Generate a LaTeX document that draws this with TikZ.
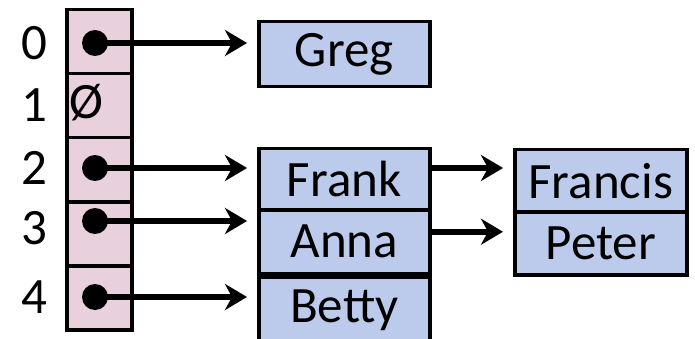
\documentclass[tikz,border=0pt]{standalone}
\usepackage{fontspec}
\setmainfont{Carlito}
\usetikzlibrary{arrows.meta}
\definecolor{cellpink}{RGB}{232,208,221}
\definecolor{boxblue}{RGB}{188,203,235}
\tikzset{
  cell/.style={draw=black, line width=3.5pt, fill=cellpink, minimum width=65pt, minimum height=64pt, inner sep=0pt, anchor=north west},
  namebox/.style={draw=black, line width=3.5pt, fill=boxblue, inner sep=0pt, anchor=north west, font=\fontsize{51}{56}\selectfont},
  idx/.style={font=\fontsize{51}{56}\selectfont, inner sep=0pt},
  dot/.style={circle, fill=black, minimum size=26pt, inner sep=0pt},
  ptr/.style={line width=6pt, -{Stealth[length=22pt,width=26pt,inset=7pt]}, shorten >=10pt},
}
\begin{document}
\begin{tikzpicture}[x=1pt,y=-1pt]
\useasboundingbox (0,0) rectangle (695,339);
% table cells
\node[cell] (c0) at (65,8) {};
\node[cell] (c1) at (65,72) {};
\node[cell] (c2) at (65,136) {};
\node[cell] (c3) at (65,200) {};
\node[cell] (c4) at (65,264) {};
% index labels
\node[idx] (i0) at (34,43) {0};
\node[idx] (i1) at (34,105) {1};
\node[idx] (i2) at (34,168) {2};
\node[idx] (i3) at (34,228) {3};
\node[idx] (i4) at (34,297) {4};
\node[idx] (nul) at (86,103) {Ø};
% dots
\node[dot] (d0) at (95,43) {};
\node[dot] (d2) at (95,168) {};
\node[dot] (d3) at (95,221) {};
\node[dot] (d4) at (95,297) {};
% name boxes
\node[namebox, minimum width=171pt, minimum height=65pt] (greg) at (257,20) {Greg};
\node[namebox, minimum width=171pt, minimum height=61pt] (frank) at (257,147) {Frank};
\node[namebox, minimum width=171pt, minimum height=64pt] (anna) at (257,208) {Anna};
\node[namebox, minimum width=171pt, minimum height=66pt] (betty) at (257,275) {Betty};
\node[namebox, minimum width=172pt, minimum height=62pt] (francis) at (513,148) {Francis};
\node[namebox, minimum width=172pt, minimum height=63pt] (peter) at (513,210) {Peter};
% pointers
\draw[ptr] (d0.center) -- (greg.west |- d0);
\draw[ptr] (d2.center) -- (frank.west |- d2);
\draw[ptr] (d3.center) -- (anna.west |- d3);
\draw[ptr] (d4.center) -- (betty.west |- d4);
\draw[ptr] (frank.east |- d2) -- (francis.west |- d2);
\draw[ptr] ([yshift=10pt]anna.east) -- ([yshift=10pt]anna.east -| peter.west);
\end{tikzpicture}
\end{document}
